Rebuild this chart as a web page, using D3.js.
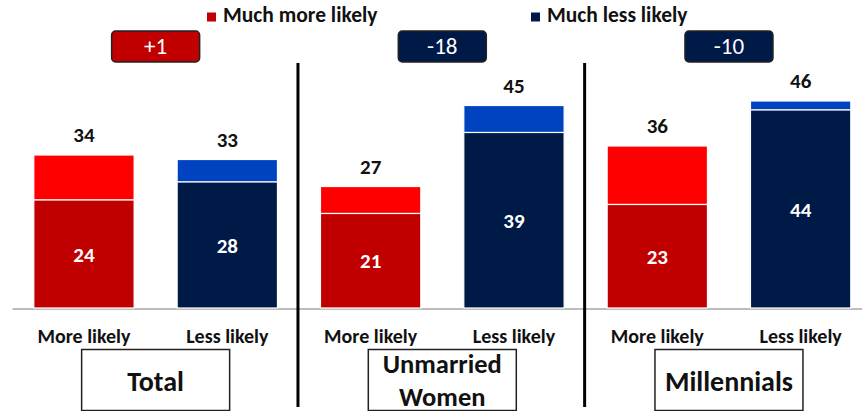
<!DOCTYPE html>
<html>
<head>
<meta charset="utf-8">
<script src="https://cdn.jsdelivr.net/npm/d3@7"></script>
<style>
  html, body { margin: 0; padding: 0; background: #fff; }
  svg { display: block; }
  text { font-family: Carlito, Calibri, Lato, sans-serif; }
</style>
</head>
<body>
<svg id="chart" width="862" height="411"></svg>
<script>
// ---- data ----
const groups = ["Total", "Unmarried Women", "Millennials"];
const categories = ["More likely", "Less likely"];
const seriesNames = ["Much more likely", "Much less likely"];
const muchValues = [24, 28, 21, 39, 23, 44];
const totalValues = [34, 33, 27, 45, 36, 46];
const netLabels = ["+1", "-18", "-10"];

// ---- styles ----
const C = {
  darkRed: "#c00000", red: "#ff0000",
  navy: "#001a47", blue: "#0043c0",
  text: "#111111"
};

const W = 862, H = 411;
const svg = d3.select("#chart");

function fitWidth(sel, maxW) {
  sel.each(function () {
    const w = this.getComputedTextLength();
    if (w > maxW) {
      d3.select(this).attr("textLength", maxW).attr("lengthAdjust", "spacingAndGlyphs");
    }
  });
}

const keys = groups.flatMap((g, gi) => categories.map((c, ci) => gi + "|" + ci));
const rows = keys.map((k, i) => {
  const [gi, ci] = k.split("|").map(Number);
  return { key: k, gi, ci, much: muchValues[i], total: totalValues[i] };
});

const x = d3.scaleBand().domain(keys).range([12.3, 872.3]).paddingInner(0.3).paddingOuter(0.15);
const y = d3.scaleLinear().domain([0, 50]).range([308, 83]);

const groupCenter = gi => {
  const a = x(gi + "|0"), b = x(gi + "|1") + x.bandwidth();
  return (a + b) / 2;
};

// baseline
svg.append("line")
  .attr("x1", 12.5).attr("x2", W).attr("y1", y(0) + 1).attr("y2", y(0) + 1)
  .attr("stroke", "#a6a6a6").attr("stroke-width", 1.5);

// bars
const bars = svg.append("g");
rows.forEach(r => {
  const isMore = r.ci === 0;
  bars.append("rect")
    .attr("x", x(r.key)).attr("width", x.bandwidth())
    .attr("y", y(r.total)).attr("height", y(r.much) - y(r.total))
    .attr("fill", isMore ? C.red : C.blue)
    .attr("stroke", "#fff").attr("stroke-width", 1.2);
  bars.append("rect")
    .attr("x", x(r.key)).attr("width", x.bandwidth())
    .attr("y", y(r.much)).attr("height", y(0) - y(r.much))
    .attr("fill", isMore ? C.darkRed : C.navy)
    .attr("stroke", "#fff").attr("stroke-width", 1.2);
  svg.append("text")
    .attr("x", x(r.key) + x.bandwidth() / 2).attr("y", y(r.total) - 13)
    .attr("text-anchor", "middle").attr("font-size", 21).attr("font-weight", 700)
    .attr("fill", C.text).text(r.total);
  svg.append("text")
    .attr("x", x(r.key) + x.bandwidth() / 2).attr("y", (y(r.much) + y(0)) / 2)
    .attr("dy", "0.36em")
    .attr("text-anchor", "middle").attr("font-size", 21).attr("font-weight", 700)
    .attr("fill", "#fff").text(r.much);
  svg.append("text")
    .attr("x", x(r.key) + x.bandwidth() / 2).attr("y", 343)
    .attr("text-anchor", "middle").attr("font-size", 20).attr("font-weight", 700)
    .attr("fill", C.text).text(categories[r.ci]);
});

// separators
[1, 2].forEach(gi => {
  const sx = x(gi + "|0") - x.step() * x.paddingInner() / 2 - 1;
  svg.append("line")
    .attr("x1", sx).attr("x2", sx).attr("y1", 63).attr("y2", 407)
    .attr("stroke", "#000").attr("stroke-width", 3);
});

// net boxes
groups.forEach((g, gi) => {
  const cx = groupCenter(gi);
  svg.append("rect")
    .attr("x", cx - 44).attr("y", 31).attr("width", 88).attr("height", 31)
    .attr("rx", 4).attr("ry", 4)
    .attr("fill", gi === 0 ? C.darkRed : C.navy)
    .attr("stroke", "#222").attr("stroke-width", 1.5);
  svg.append("text")
    .attr("x", cx).attr("y", 54)
    .attr("text-anchor", "middle").attr("font-size", 23)
    .attr("fill", "#fff").text(netLabels[gi]);
});

// group title boxes
groups.forEach((g, gi) => {
  const cx = groupCenter(gi);
  svg.append("rect")
    .attr("x", cx - 74).attr("y", 349.5).attr("width", 148).attr("height", 61)
    .attr("fill", "none").attr("stroke", "#222").attr("stroke-width", 1.5);
  const words = g.split(" ");
  if (words.length === 1) {
    svg.append("text")
      .attr("text-anchor", "middle").attr("font-size", 28).attr("font-weight", 700)
      .attr("fill", C.text).attr("x", cx).attr("y", 390.5).text(g)
      .call(fitWidth, 140);
  } else {
    words.forEach((w, i) => {
      svg.append("text")
        .attr("text-anchor", "middle").attr("font-size", 26.5).attr("font-weight", 700)
        .attr("fill", C.text).attr("x", cx).attr("y", 373 + i * 32.5).text(w)
        .call(fitWidth, 133);
    });
  }
});

// legend
const legendPos = [{ sq: 207, tx: 223 }, { sq: 531, tx: 547 }];
seriesNames.forEach((s, i) => {
  svg.append("rect")
    .attr("x", legendPos[i].sq).attr("y", 12.5).attr("width", 9).attr("height", 9)
    .attr("fill", i === 0 ? C.darkRed : C.navy);
  svg.append("text")
    .attr("x", legendPos[i].tx).attr("y", 22)
    .attr("font-size", 21.5).attr("font-weight", 700)
    .attr("fill", C.text).text(s);
});
</script>
</body>
</html>
